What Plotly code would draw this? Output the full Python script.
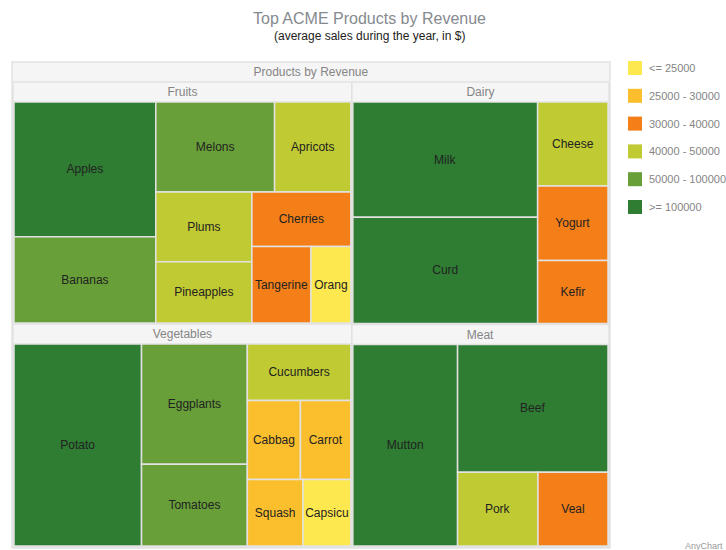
import plotly.graph_objects as go

# ---------------- data ----------------
chart_title = "Top ACME Products by Revenue"
chart_subtitle = "(average sales during the year, in $)"
root_name = "Products by Revenue"
categories = ["Fruits", "Dairy", "Vegetables", "Meat"]

fruit_names = ["Apples", "Bananas", "Melons", "Apricots", "Plums", "Pineapples", "Cherries", "Tangerine", "Oranges"]
fruit_shown = ["Apples", "Bananas", "Melons", "Apricots", "Plums", "Pineapples", "Cherries", "Tangerine", "Orang"]
fruit_values = [131000, 83600, 73200, 47000, 46000, 40200, 37000, 30900, 20900]

dairy_names = ["Milk", "Curd", "Cheese", "Yogurt", "Kefir"]
dairy_shown = ["Milk", "Curd", "Cheese", "Yogurt", "Kefir"]
dairy_values = [146000, 135000, 40500, 36000, 30500]

veg_names = ["Potato", "Eggplants", "Tomatoes", "Cucumbers", "Cabbage", "Carrot", "Squash", "Capsicum"]
veg_shown = ["Potato", "Eggplants", "Tomatoes", "Cucumbers", "Cabbag", "Carrot", "Squash", "Capsicu"]
veg_values = [178000, 88000, 59700, 40500, 29000, 27500, 25500, 22000]

meat_names = ["Mutton", "Beef", "Pork", "Veal"]
meat_shown = ["Mutton", "Beef", "Pork", "Veal"]
meat_values = [146000, 133000, 41000, 35700]

range_labels = ["<= 25000", "25000 - 30000", "30000 - 40000", "40000 - 50000", "50000 - 100000", ">= 100000"]
range_bounds = [25000, 30000, 40000, 50000, 100000]
range_colors = ["#fde84f", "#fbbf2d", "#f47f18", "#c0ca33", "#689f38", "#2e7d32"]

# ---------------- build ----------------
def color_for(v):
    for b, c in zip(range_bounds, range_colors):
        if v <= b:
            return c
    return range_colors[-1]

FONT = "Liberation Sans, Arial, sans-serif"
header_fill = "#f5f5f5"
header_text = "#858585"
leaf_text = "#222222"

ids = [root_name]
labels = [root_name]
texts = [root_name]
parents = [""]
values = [0]
colors = [header_fill]
tcolors = [header_text]

groups = [
    (fruit_names, fruit_shown, fruit_values),
    (dairy_names, dairy_shown, dairy_values),
    (veg_names, veg_shown, veg_values),
    (meat_names, meat_shown, meat_values),
]
for cat in categories:
    ids.append(cat); labels.append(cat); texts.append(cat)
    parents.append(root_name); values.append(0)
    colors.append(header_fill); tcolors.append(header_text)
for cat, (names, shown, vals) in zip(categories, groups):
    for n, s, v in zip(names, shown, vals):
        ids.append(n); labels.append(n); texts.append(s)
        parents.append(cat); values.append(v)
        colors.append(color_for(v)); tcolors.append(leaf_text)

fig = go.Figure()
fig.add_trace(go.Treemap(
    ids=ids, labels=labels, parents=parents, values=values,
    text=texts, textinfo="text",
    branchvalues="remainder",
    sort=True,
    tiling=dict(packing="squarify", squarifyratio=1, pad=0),
    marker=dict(colors=colors, line=dict(color="#e2e2e2", width=1.5),
                pad=dict(t=20, l=1, r=1, b=1)),
    pathbar=dict(visible=False),
    textposition="middle center",
    textfont=dict(family=FONT, size=12, color=tcolors),
    hoverinfo="label+value",
    root=dict(color=header_fill),
    domain=dict(x=[0, 1], y=[0, 1]),
))

W, H = 726, 550
# plot area in window pixels: x 12..610, y 62..548
L, R, T, B = 12, 610, 62, 548

def px_x(x):
    return (x - L) / (R - L)

def px_y(y):
    return 1 - (y - T) / (B - T)

shapes = []
annotations = [
    dict(text=chart_title, xref="paper", yref="paper",
         x=px_x(369), y=px_y(19), xanchor="center", yanchor="middle",
         showarrow=False, font=dict(family=FONT, size=16, color="#858a8f")),
    dict(text=chart_subtitle, xref="paper", yref="paper",
         x=px_x(369), y=px_y(36), xanchor="center", yanchor="middle",
         showarrow=False, font=dict(family=FONT, size=12, color="#222222")),
    dict(text="AnyChart", xref="paper", yref="paper",
         x=px_x(725), y=px_y(546), xanchor="right", yanchor="middle",
         showarrow=False, font=dict(family=FONT, size=9, color="#999999")),
]
for i, (lab, col) in enumerate(zip(range_labels, range_colors)):
    cy = 68 + i * 27.8
    shapes.append(dict(type="rect", xref="paper", yref="paper",
                       x0=px_x(628), x1=px_x(642), y0=px_y(cy + 7), y1=px_y(cy - 7),
                       fillcolor=col, line=dict(width=0)))
    annotations.append(dict(text=lab, xref="paper", yref="paper",
                            x=px_x(647), y=px_y(cy), xanchor="left", yanchor="middle",
                            showarrow=False,
                            font=dict(family=FONT, size=11, color="#858585")))

fig.update_layout(
    width=W, height=H,
    margin=dict(l=L, r=W - R, t=T, b=H - B, autoexpand=False),
    paper_bgcolor="white", plot_bgcolor="white",
    font=dict(family=FONT, size=12, color=header_text),
    showlegend=False,
    uniformtext=dict(minsize=12, mode="show"),
    shapes=shapes,
    annotations=annotations,
)

fig.write_html(
    "out.html",
    config={"displayModeBar": False},
    post_script=(
        "document.body.style.margin='0';"
        "document.body.style.overflow='hidden';"
        "document.documentElement.style.overflow='hidden';"
    ),
)
